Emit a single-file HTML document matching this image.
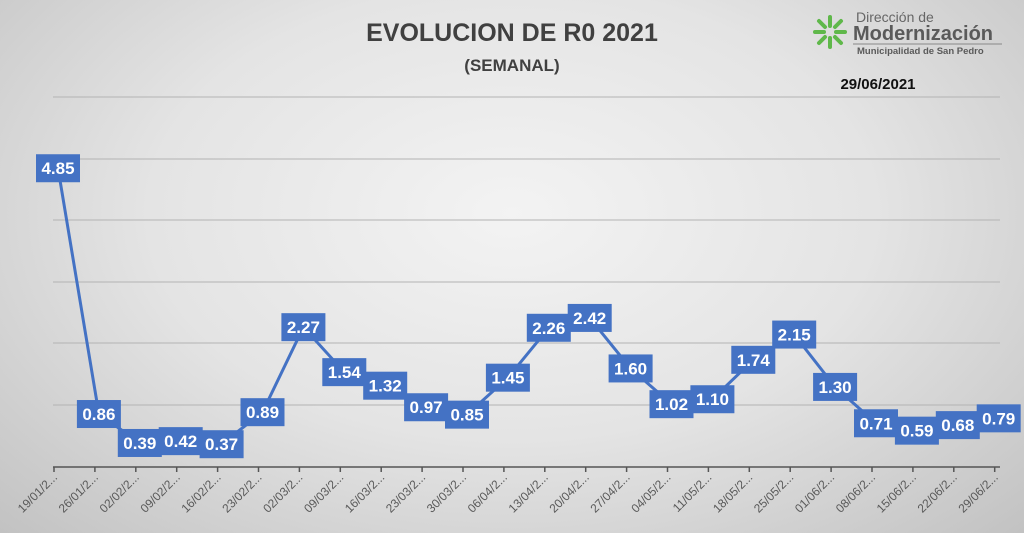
<!DOCTYPE html>
<html><head><meta charset="utf-8"><style>
body{margin:0;width:1024px;height:533px;overflow:hidden;background:radial-gradient(ellipse at 50% 40%,#f3f3f3 0%,#e4e4e4 50%,#c2c2c2 100%);font-family:"Liberation Sans",sans-serif;}
</style></head><body>
<svg width="1024" height="533" style="position:absolute;left:0;top:0">
<text x="512" y="41" text-anchor="middle" font-size="25" font-weight="bold" fill="#404040">EVOLUCION DE R0 2021</text>
<text x="512" y="71" text-anchor="middle" font-size="17" font-weight="bold" fill="#404040">(SEMANAL)</text>
<g stroke="#b3b3b3" stroke-width="1">
<line x1="53" x2="1000" y1="97" y2="97"/><line x1="53" x2="1000" y1="159" y2="159"/><line x1="53" x2="1000" y1="220" y2="220"/><line x1="53" x2="1000" y1="282" y2="282"/><line x1="53" x2="1000" y1="343" y2="343"/><line x1="53" x2="1000" y1="405" y2="405"/>
</g>
<line x1="53" x2="1000" y1="467" y2="467" stroke="#555" stroke-width="1.5"/>
<g id="ticks" stroke="#555" stroke-width="1.5"></g>
<g id="xl" font-size="12" fill="#595959"></g>
<polyline id="ln" fill="none" stroke="#4472c4" stroke-width="3"/>
<g id="lb"></g>
<g transform="translate(830,32)">
<g stroke="#5fb84a" stroke-width="4" stroke-linecap="round">
<line x1="0" y1="-6" x2="0" y2="-15"/><line x1="0" y1="6" x2="0" y2="15"/><line x1="-6" y1="0" x2="-15" y2="0"/><line x1="6" y1="0" x2="15" y2="0"/>
<line x1="5" y1="-5" x2="11" y2="-11"/><line x1="-5" y1="5" x2="-11" y2="11"/><line x1="-5" y1="-5" x2="-11" y2="-11"/><line x1="5" y1="5" x2="11" y2="11"/>
</g></g>
<text x="856" y="22" font-size="14" fill="#666">Dirección de</text>
<text x="853" y="40" font-size="20" font-weight="bold" fill="#5a5a5a">Modernización</text>
<line x1="853" y1="44" x2="1002" y2="44" stroke="#888"/>
<text x="857" y="54" font-size="9.5" font-weight="bold" fill="#5a5a5a">Municipalidad de San Pedro</text>
<text x="878" y="89" text-anchor="middle" font-size="15" font-weight="bold" fill="#111">29/06/2021</text>
</svg>
<script>
const v=[4.85,0.86,0.39,0.42,0.37,0.89,2.27,1.54,1.32,0.97,0.85,1.45,2.26,2.42,1.60,1.02,1.10,1.74,2.15,1.30,0.71,0.59,0.68,0.79];
const d=["19/01","26/01","02/02","09/02","16/02","23/02","02/03","09/03","16/03","23/03","30/03","06/04","13/04","20/04","27/04","04/05","11/05","18/05","25/05","01/06","08/06","15/06","22/06","29/06"];
const ns="http://www.w3.org/2000/svg";
let pts=[],lb=document.getElementById('lb'),xl=document.getElementById('xl'),tk=document.getElementById('ticks');
v.forEach((y,i)=>{const x=58+40.9*i,py=467-y*61.6;pts.push(x+","+py);
 let r=document.createElementNS(ns,'rect');r.setAttribute('x',x-22);r.setAttribute('y',py-14);r.setAttribute('width',44);r.setAttribute('height',28);r.setAttribute('fill','#4472c4');lb.appendChild(r);
 let t=document.createElementNS(ns,'text');t.setAttribute('x',x);t.setAttribute('y',py+6);t.setAttribute('text-anchor','middle');t.setAttribute('font-size','17');t.setAttribute('font-weight','bold');t.setAttribute('fill','#fff');t.textContent=y.toFixed(2);lb.appendChild(t);
 const tx=54+40.9*i;let l=document.createElementNS(ns,'line');l.setAttribute('x1',tx);l.setAttribute('x2',tx);l.setAttribute('y1',467);l.setAttribute('y2',472);tk.appendChild(l);
 let q=document.createElementNS(ns,'text');q.setAttribute('text-anchor','end');q.setAttribute('transform','translate('+(tx+4)+',478) rotate(-45)');q.textContent=d[i]+"/2...";xl.appendChild(q);
});
document.getElementById('ln').setAttribute('points',pts.join(' '));
</script>
</body></html>
